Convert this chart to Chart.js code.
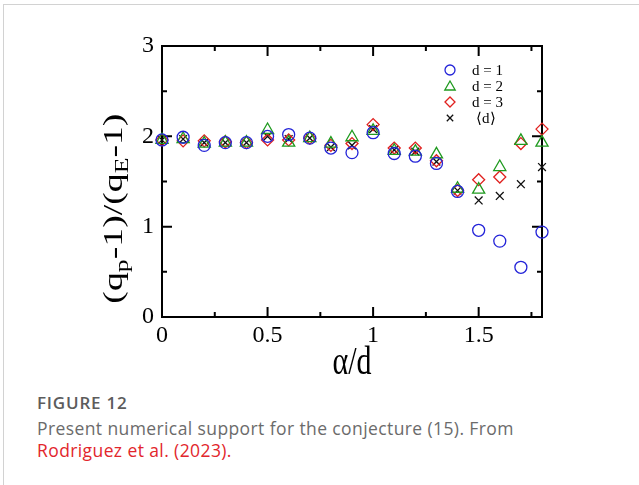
<!DOCTYPE html>
<html lang="en">
<head>
    <meta charset="UTF-8">
    <title>Figure 12</title>
    <style>
        body { margin: 0; background: #fff; width: 639px; height: 485px; overflow: hidden; }
        .card { position: absolute; left: 3px; top: 4px; width: 640px; height: 490px; border-top: 1px solid #d2d2d2; border-left: 1px solid #d2d2d2; }
        .plot { position: absolute; left: 0; top: 0; width: 639px; height: 385px; }
        .caption { position: absolute; left: 37px; top: 392px; font-family: "Open Sans", Lato, sans-serif; white-space: nowrap; }
        .caption .fig { font-size: 17px; font-weight: 600; color: #5c5c5c; line-height: 22px; margin-bottom: 2.5px; letter-spacing: 0.8px; }
        .caption .txt { font-size: 17.5px; color: #6b6b6b; line-height: 22.4px; letter-spacing: 0.4px; }
        .caption .ref { color: #e2262c; }
    </style>
</head>
<body>
    <div class="card"></div>
    <div class="plot"><canvas id="chart" width="639" height="385"></canvas></div>
    <div class="caption">
        <div class="fig">FIGURE 12</div>
        <div class="txt">Present numerical support for the conjecture (15). From<br><span class="ref">Rodriguez et al. (2023).</span></div>
    </div>

    <script src="https://cdn.jsdelivr.net/npm/chart.js"></script>
    <script>
        // alpha/d values
        const alpha = [0, 0.1, 0.2, 0.3, 0.4, 0.5, 0.6, 0.7, 0.8, 0.9, 1.0, 1.1, 1.2, 1.3, 1.4, 1.5, 1.6, 1.7, 1.8];
        const d1   = [1.96, 1.99, 1.90, 1.93, 1.93, 2.00, 2.02, 1.98, 1.87, 1.82, 2.04, 1.81, 1.78, 1.70, 1.39, 0.96, 0.84, 0.55, 0.94];
        const d2   = [1.96, 1.97, 1.92, 1.93, 1.93, 2.07, 1.93, 1.98, 1.92, 1.99, 2.06, 1.84, 1.83, 1.80, 1.42, 1.41, 1.66, 1.95, 1.93];
        const d3   = [1.96, 1.95, 1.95, 1.94, 1.93, 1.96, 1.96, 1.98, 1.90, 1.92, 2.13, 1.87, 1.87, 1.73, 1.40, 1.52, 1.55, 1.92, 2.08];
        const dAvg = [1.96, 1.97, 1.93, 1.93, 1.93, 2.00, 1.97, 1.98, 1.88, 1.90, 2.08, 1.85, 1.83, 1.72, 1.40, 1.29, 1.34, 1.47, 1.66];

        const seriesLabels = ["d = 1", "d = 2", "d = 3", "\u27E8d\u27E9"];
        const xTicks = [0, 0.5, 1, 1.5];
        const yTicks = [0, 1, 2, 3];
        const xMinor = [0.25, 0.75, 1.25, 1.75];
        const yMinor = [0.5, 1.5, 2.5];

        const serif = "'Liberation Serif', 'Times New Roman', serif";

        function pts(ys) {
            return alpha.map((a, i) => ({ x: a, y: ys[i] }));
        }

        const styles = [
            { color: "#2323d8", pointStyle: "circle",   radius: 6 },
            { color: "#1f9a1f", pointStyle: "triangle", radius: 7 },
            { color: "#e0201e", pointStyle: "rectRot",  radius: 6 },
            { color: "#111111", pointStyle: "crossRot", radius: 5.5 }
        ];

        const datasets = [d1, d2, d3, dAvg].map((ys, i) => ({
            label: seriesLabels[i],
            data: pts(ys),
            pointStyle: styles[i].pointStyle,
            pointRadius: styles[i].radius,
            pointBorderColor: styles[i].color,
            pointBackgroundColor: "rgba(0,0,0,0)",
            pointBorderWidth: 1.3,
            showLine: false,
            clip: false
        }));

        // frame, inward ticks, axis titles and legend
        const decor = {
            id: "decor",
            beforeDatasetsDraw(chart) {
                const ctx = chart.ctx, ca = chart.chartArea;
                const xs = chart.scales.x, ys = chart.scales.y;
                ctx.save();
                ctx.strokeStyle = "#000";
                ctx.lineWidth = 2;
                ctx.strokeRect(ca.left, ca.top, ca.right - ca.left, ca.bottom - ca.top);
                ctx.beginPath();
                const tick = (vals, len) => {
                    vals.forEach(v => {
                        const px = xs.getPixelForValue(v);
                        ctx.moveTo(px, ca.bottom); ctx.lineTo(px, ca.bottom - len);
                        ctx.moveTo(px, ca.top); ctx.lineTo(px, ca.top + len);
                    });
                };
                const tickY = (vals, len) => {
                    vals.forEach(v => {
                        const py = ys.getPixelForValue(v);
                        ctx.moveTo(ca.left, py); ctx.lineTo(ca.left + len, py);
                        ctx.moveTo(ca.right, py); ctx.lineTo(ca.right - len, py);
                    });
                };
                tick(xTicks, 10); tick(xMinor, 5);
                tickY(yTicks, 10); tickY(yMinor, 5);
                ctx.stroke();
                ctx.restore();
            },
            afterDraw(chart) {
                const ctx = chart.ctx, ca = chart.chartArea;
                ctx.save();
                ctx.fillStyle = "#000";
                ctx.textBaseline = "alphabetic";

                // y title: (q_p-1)/(q_E-1)
                const big = "28px " + serif, small = "19px " + serif;
                const parts = [["(q", big, 0], ["p", small, 6], ["-1)/(q", big, 0], ["E", small, 6], ["-1)", big, 0]];
                let total = 0;
                parts.forEach(p => { ctx.font = p[1]; total += ctx.measureText(p[0]).width; });
                ctx.translate(ca.left - 40, ca.top + (ca.bottom - ca.top) * 0.6);
                ctx.rotate(-Math.PI / 2);
                ctx.scale(1.35, 1);
                let x = -total / 2;
                parts.forEach(p => {
                    ctx.font = p[1];
                    ctx.fillText(p[0], x, p[2]);
                    x += ctx.measureText(p[0]).width;
                });
                ctx.restore();

                // x title
                ctx.save();
                ctx.fillStyle = "#000";
                ctx.font = "30px " + serif;
                ctx.textAlign = "center";
                ctx.translate((ca.left + ca.right) / 2, ca.bottom + 57);
                ctx.scale(1, 1.3);
                ctx.fillText("\u03B1/d", 0, 0);
                ctx.restore();

                // legend
                ctx.save();
                const lx = ca.right - 92, tx = ca.right - 70;
                const legR = [5, 6, 5, 4.5];
                ctx.font = "15px " + serif;
                ctx.textBaseline = "middle";
                styles.forEach((s, i) => {
                    const ly = ca.top + 24 + i * 16;
                    ctx.strokeStyle = s.color;
                    ctx.fillStyle = "rgba(0,0,0,0)";
                    ctx.lineWidth = 1.3;
                    Chart.helpers.drawPoint(ctx, { pointStyle: s.pointStyle, radius: legR[i], rotation: 0, borderWidth: 1.3 }, lx, ly + (i === 1 ? 1 : 0));
                    ctx.fillStyle = "#000";
                    ctx.fillText(seriesLabels[i], tx + (i === 3 ? 4 : 0), ly + 1);
                });
                ctx.restore();
            }
        };

        new Chart(document.getElementById("chart"), {
            type: "scatter",
            data: { datasets: datasets },
            options: {
                responsive: false,
                animation: false,
                layout: { padding: { left: 0, top: 46, right: 97, bottom: 0 } },
                plugins: { legend: { display: false }, tooltip: { enabled: false } },
                scales: {
                    x: {
                        type: "linear", min: 0, max: 1.8,
                        grid: { display: false, drawTicks: false },
                        border: { display: false },
                        afterBuildTicks: s => { s.ticks = xTicks.map(v => ({ value: v })); },
                        afterFit: s => { s.height = 68; },
                        ticks: { padding: 4, color: "#000", font: { family: serif, size: 24 }, callback: v => String(v), maxRotation: 0 }
                    },
                    y: {
                        type: "linear", min: 0, max: 3,
                        grid: { display: false, drawTicks: false },
                        border: { display: false },
                        afterBuildTicks: s => { s.ticks = yTicks.map(v => ({ value: v })); },
                        afterFit: s => { s.width = 162; },
                        ticks: { padding: 8, color: "#000", font: { family: serif, size: 24 }, callback: v => String(v) }
                    }
                }
            },
            plugins: [decor]
        });
    </script>
</body>
</html>
